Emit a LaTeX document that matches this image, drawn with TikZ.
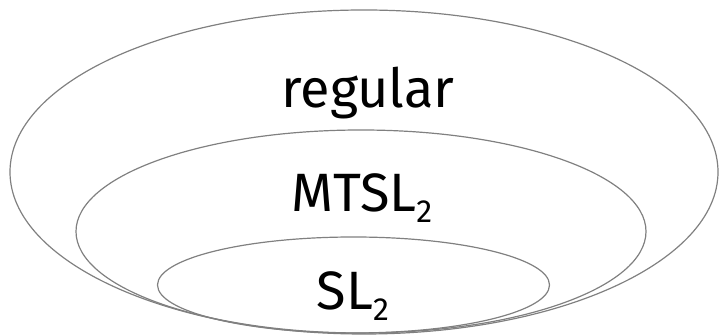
\documentclass[tikz,border=0pt]{standalone}
\usepackage{fontspec}
\setmainfont{Fira Sans}
\definecolor{rimgray}{RGB}{128,128,128}
\newcommand{\lowsub}[1]{\raisebox{-11pt}{\fontsize{32}{36}\selectfont #1}}

\begin{document}
\begin{tikzpicture}[x=1pt, y=1pt,
  rim/.style={draw=rimgray, line width=1.2pt},
  classlabel/.style={anchor=base, inner sep=0pt, font=\fontsize{54}{60}\selectfont}]

\useasboundingbox (0,0) rectangle (720,336);

% Nested classes
\draw[rim] (364,164) ellipse [x radius=354, y radius=162];
\draw[rim] (361,104.5) ellipse [x radius=285, y radius=101.5];
\draw[rim] (353.5,51) ellipse [x radius=196, y radius=48];

% Labels
\node[classlabel] (regular) at (368,228) {regular};
\node[classlabel] (mtsl) at (362,124) {MTSL\lowsub{2}};
\node[classlabel] (sl) at (353,26) {SL\lowsub{2}};

\end{tikzpicture}
\end{document}
